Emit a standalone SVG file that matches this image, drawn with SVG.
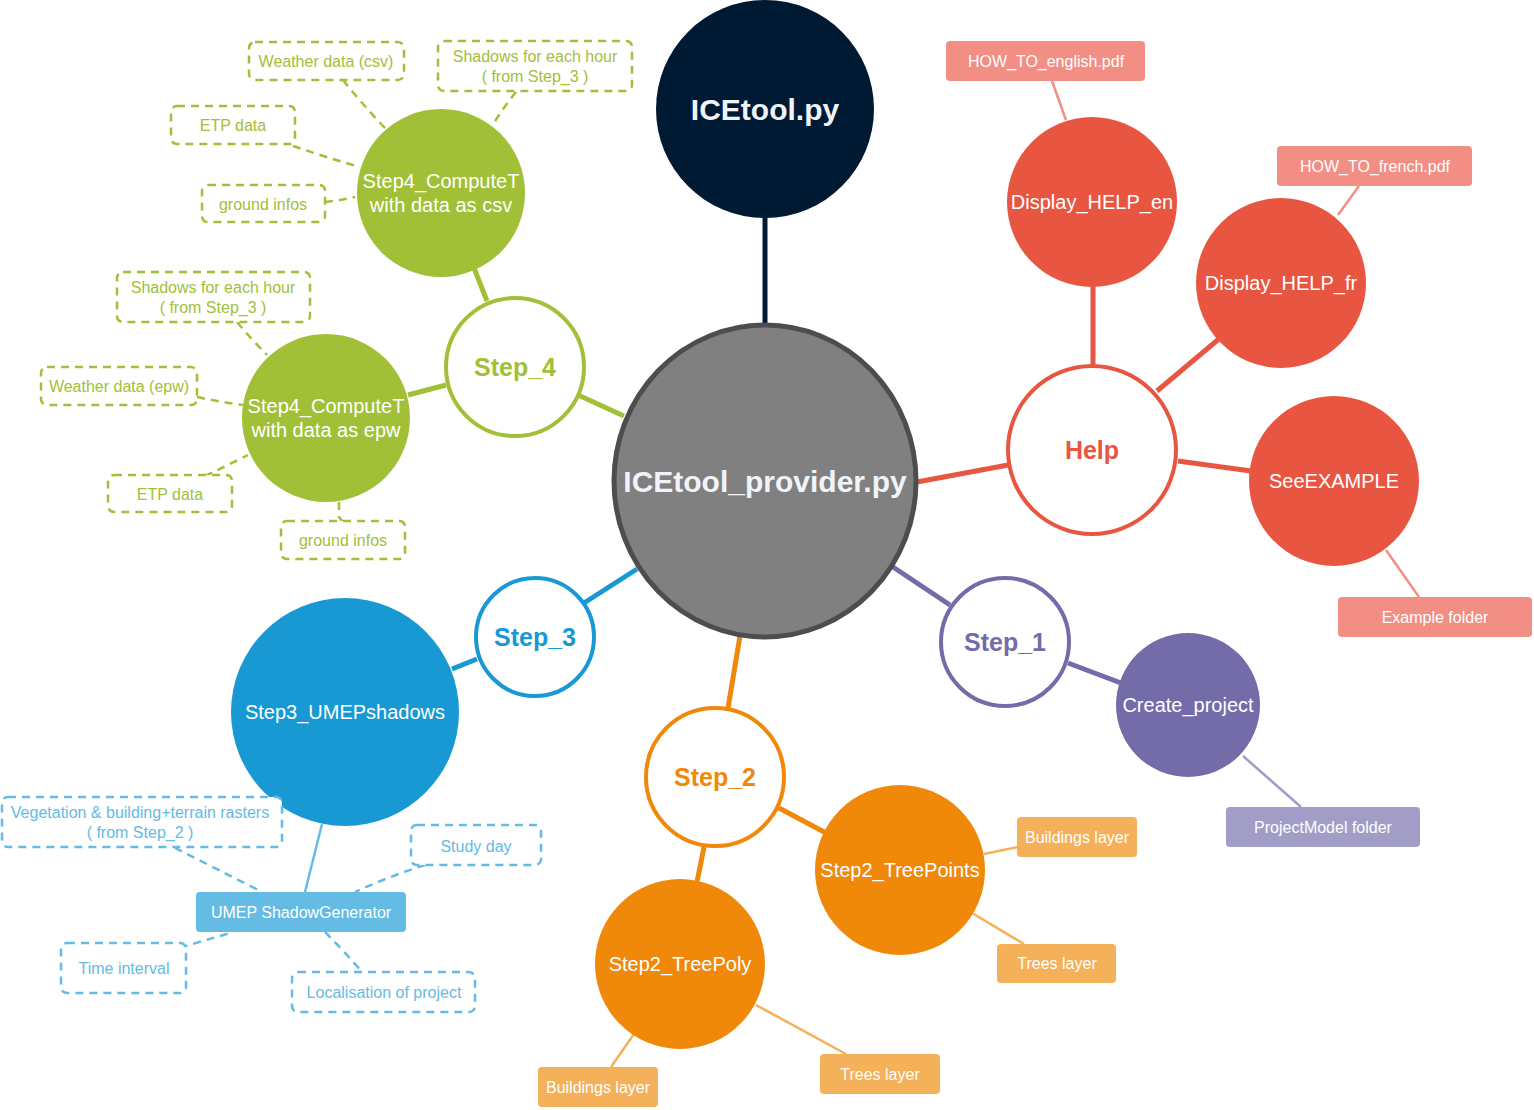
<svg xmlns="http://www.w3.org/2000/svg" width="1534" height="1110" viewBox="0 0 1534 1110">
<style>
text{font-family:"Liberation Sans",Arial,sans-serif;text-anchor:middle;}
.t20{font-size:20px;fill:#ffffff;}
.tb{font-weight:bold;font-size:25px;}
.big{font-weight:bold;font-size:30px;fill:#f0f4fa;}
.t16{font-size:16px;fill:#ffffff;}
.t15g{font-size:16px;fill:#a2c037;}
.t15b{font-size:16px;fill:#64bbe3;}
.dg{fill:#ffffff;stroke:#a2c037;stroke-width:2.5;stroke-dasharray:8 6;}
.db{fill:#ffffff;stroke:#64bbe3;stroke-width:2.5;stroke-dasharray:8 6;}
.cdg{fill:none;stroke:#a2c037;stroke-width:2.5;stroke-dasharray:8 6;}
.cdb{fill:none;stroke:#64bbe3;stroke-width:2.5;stroke-dasharray:8 6;}
</style>
<rect width="1534" height="1110" fill="#ffffff"/>
<g id="connectors" fill="none">
  <line x1="765" y1="216" x2="765" y2="325" stroke="#001a33" stroke-width="5"/>
  <line x1="624" y1="416" x2="578" y2="395" stroke="#a2c037" stroke-width="5"/>
  <line x1="487" y1="301" x2="474" y2="268" stroke="#a2c037" stroke-width="5"/>
  <line x1="446" y1="385" x2="408" y2="395" stroke="#a2c037" stroke-width="5"/>
  <path class="cdg" d="M343 80 Q362 104 385 128"/>
  <path class="cdg" d="M516 92 Q503 108 492 126"/>
  <path class="cdg" d="M293 146 Q325 157 360 167"/>
  <path class="cdg" d="M325 202 L340 200 L355 197"/>
  <path class="cdg" d="M237 322 Q252 340 267 355"/>
  <path class="cdg" d="M197 397 Q220 402 243 405"/>
  <path class="cdg" d="M205 476 Q226 466 248 455"/>
  <path class="cdg" d="M339 502 L339 517 L343 522"/>
  <line x1="637" y1="569" x2="584" y2="603" stroke="#1899d3" stroke-width="5"/>
  <line x1="477" y1="659" x2="452" y2="669" stroke="#1899d3" stroke-width="5"/>
  <line x1="322" y1="824" x2="305" y2="892" stroke="#64bbe3" stroke-width="2.5"/>
  <path class="cdb" d="M175 848 Q215 868 262 892"/>
  <path class="cdb" d="M425 865 Q390 876 355 892"/>
  <path class="cdb" d="M180 948 Q205 940 234 932"/>
  <path class="cdb" d="M325 932 Q343 950 362 972"/>
  <line x1="740" y1="636" x2="728" y2="708" stroke="#f0880a" stroke-width="5"/>
  <line x1="779" y1="808" x2="826" y2="833" stroke="#f0880a" stroke-width="5"/>
  <line x1="704" y1="847" x2="697" y2="882" stroke="#f0880a" stroke-width="5"/>
  <line x1="984" y1="854" x2="1018" y2="847" stroke="#f5b05a" stroke-width="2.5"/>
  <line x1="972" y1="913" x2="1024" y2="944" stroke="#f5b05a" stroke-width="2.5"/>
  <line x1="634" y1="1034" x2="611" y2="1067" stroke="#f5b05a" stroke-width="2.5"/>
  <line x1="756" y1="1005" x2="846" y2="1054" stroke="#f5b05a" stroke-width="2.5"/>
  <line x1="893" y1="567" x2="950" y2="605" stroke="#746ca8" stroke-width="5"/>
  <line x1="1068" y1="663" x2="1121" y2="683" stroke="#746ca8" stroke-width="5"/>
  <line x1="1243" y1="756" x2="1301" y2="807" stroke="#a29dc7" stroke-width="2.5"/>
  <line x1="917" y1="482" x2="1008" y2="465" stroke="#e85642" stroke-width="5"/>
  <line x1="1093" y1="286" x2="1093" y2="365" stroke="#e85642" stroke-width="5"/>
  <line x1="1157" y1="391" x2="1220" y2="338" stroke="#e85642" stroke-width="5"/>
  <line x1="1178" y1="461" x2="1251" y2="471" stroke="#e85642" stroke-width="5"/>
  <line x1="1052" y1="81" x2="1066" y2="120" stroke="#f28e84" stroke-width="2.5"/>
  <line x1="1359" y1="186" x2="1338" y2="215" stroke="#f28e84" stroke-width="2.5"/>
  <line x1="1386" y1="550" x2="1419" y2="597" stroke="#f28e84" stroke-width="2.5"/>
</g>
<g id="n-icetool"><circle cx="765" cy="109" r="109" fill="#001a33"/><text class="big" x="765" y="120">ICEtool.py</text></g>
<g id="n-provider"><ellipse cx="765" cy="481" rx="151" ry="156" fill="#808080" stroke="#4d4d4d" stroke-width="5"/><text class="big" x="765" y="492">ICEtool_provider.py</text></g>
<g id="n-step4"><circle cx="515" cy="367" r="69" fill="#ffffff" stroke="#a2c037" stroke-width="4"/><text class="tb" x="515" y="376" fill="#a2c037">Step_4</text></g>
<g id="n-csv"><circle cx="441" cy="193" r="84" fill="#a2c037"/><text class="t20" x="441" y="188">Step4_ComputeT</text><text class="t20" x="441" y="212">with data as csv</text></g>
<g id="n-epw"><circle cx="326" cy="418" r="84" fill="#a2c037"/><text class="t20" x="326" y="413">Step4_ComputeT</text><text class="t20" x="326" y="437">with data as epw</text></g>
<g id="b-weather-csv"><rect class="dg" x="249" y="42" width="155" height="38" rx="6"/><text class="t15g" x="326" y="67">Weather data (csv)</text></g>
<g id="b-shadows-csv"><rect class="dg" x="438" y="41" width="194" height="50" rx="6"/><text class="t15g" x="535" y="62">Shadows for each hour</text><text class="t15g" x="535" y="82">( from Step_3 )</text></g>
<g id="b-etp-csv"><rect class="dg" x="171" y="106" width="124" height="38" rx="6"/><text class="t15g" x="233" y="131">ETP data</text></g>
<g id="b-ground-csv"><rect class="dg" x="202" y="185" width="123" height="37" rx="6"/><text class="t15g" x="263" y="210">ground infos</text></g>
<g id="b-shadows-epw"><rect class="dg" x="117" y="272" width="193" height="50" rx="6"/><text class="t15g" x="213" y="293">Shadows for each hour</text><text class="t15g" x="213" y="313">( from Step_3 )</text></g>
<g id="b-weather-epw"><rect class="dg" x="41" y="367" width="156" height="38" rx="6"/><text class="t15g" x="119" y="392">Weather data (epw)</text></g>
<g id="b-etp-epw"><rect class="dg" x="108" y="475" width="124" height="37" rx="6"/><text class="t15g" x="170" y="500">ETP data</text></g>
<g id="b-ground-epw"><rect class="dg" x="281" y="521" width="124" height="38" rx="6"/><text class="t15g" x="343" y="546">ground infos</text></g>
<g id="n-step3"><circle cx="535" cy="637" r="59" fill="#ffffff" stroke="#1899d3" stroke-width="4"/><text class="tb" x="535" y="646" fill="#1899d3">Step_3</text></g>
<g id="n-umepshadows"><circle cx="345" cy="712" r="114" fill="#1899d3"/><text class="t20" x="345" y="719">Step3_UMEPshadows</text></g>
<g id="n-shadowgen"><rect x="196" y="892" width="210" height="40" rx="4" fill="#64bbe3"/><text class="t16" x="301" y="918">UMEP ShadowGenerator</text></g>
<g id="b-veg"><rect class="db" x="2" y="797" width="280" height="50" rx="6"/><text class="t15b" x="140" y="818">Vegetation &amp; building+terrain rasters</text><text class="t15b" x="140" y="838">( from Step_2 )</text></g>
<g id="b-studyday"><rect class="db" x="411" y="825" width="130" height="40" rx="6"/><text class="t15b" x="476" y="852">Study day</text></g>
<g id="b-timeint"><rect class="db" x="61" y="943" width="125" height="50" rx="6"/><text class="t15b" x="124" y="974">Time interval</text></g>
<g id="b-local"><rect class="db" x="292" y="972" width="183" height="40" rx="6"/><text class="t15b" x="384" y="998">Localisation of project</text></g>
<g id="n-step2"><circle cx="715" cy="777" r="69" fill="#ffffff" stroke="#f0880a" stroke-width="4"/><text class="tb" x="715" y="786" fill="#f0880a">Step_2</text></g>
<g id="n-treepoints"><circle cx="900" cy="870" r="85" fill="#f0880a"/><text class="t20" x="900" y="877">Step2_TreePoints</text></g>
<g id="n-treepoly"><circle cx="680" cy="964" r="85" fill="#f0880a"/><text class="t20" x="680" y="971">Step2_TreePoly</text></g>
<g id="b-build1"><rect x="1017" y="817" width="120" height="40" rx="4" fill="#f5b05a"/><text class="t16" x="1077" y="843">Buildings layer</text></g>
<g id="b-trees1"><rect x="997" y="944" width="119" height="39" rx="4" fill="#f5b05a"/><text class="t16" x="1057" y="969">Trees layer</text></g>
<g id="b-build2"><rect x="538" y="1067" width="120" height="40" rx="4" fill="#f5b05a"/><text class="t16" x="598" y="1093">Buildings layer</text></g>
<g id="b-trees2"><rect x="820" y="1054" width="120" height="40" rx="4" fill="#f5b05a"/><text class="t16" x="880" y="1080">Trees layer</text></g>
<g id="n-step1"><circle cx="1005" cy="642" r="64" fill="#ffffff" stroke="#746ca8" stroke-width="4"/><text class="tb" x="1005" y="651" fill="#746ca8">Step_1</text></g>
<g id="n-create"><circle cx="1188" cy="705" r="72" fill="#746ca8"/><text class="t20" x="1188" y="712">Create_project</text></g>
<g id="b-projectmodel"><rect x="1226" y="807" width="194" height="40" rx="4" fill="#a29dc7"/><text class="t16" x="1323" y="833">ProjectModel folder</text></g>
<g id="n-help"><circle cx="1092" cy="450" r="84" fill="#ffffff" stroke="#e85642" stroke-width="4"/><text class="tb" x="1092" y="459" fill="#e85642">Help</text></g>
<g id="n-helpen"><circle cx="1092" cy="202" r="85" fill="#e85642"/><text class="t20" x="1092" y="209">Display_HELP_en</text></g>
<g id="n-helpfr"><circle cx="1281" cy="283" r="85" fill="#e85642"/><text class="t20" x="1281" y="290">Display_HELP_fr</text></g>
<g id="n-example"><circle cx="1334" cy="481" r="85" fill="#e85642"/><text class="t20" x="1334" y="488">SeeEXAMPLE</text></g>
<g id="b-english"><rect x="946" y="41" width="199" height="40" rx="4" fill="#f28e84"/><text class="t16" x="1046" y="67">HOW_TO_english.pdf</text></g>
<g id="b-french"><rect x="1277" y="146" width="195" height="40" rx="4" fill="#f28e84"/><text class="t16" x="1375" y="172">HOW_TO_french.pdf</text></g>
<g id="b-exfolder"><rect x="1338" y="597" width="194" height="40" rx="4" fill="#f28e84"/><text class="t16" x="1435" y="623">Example folder</text></g>
</svg>
